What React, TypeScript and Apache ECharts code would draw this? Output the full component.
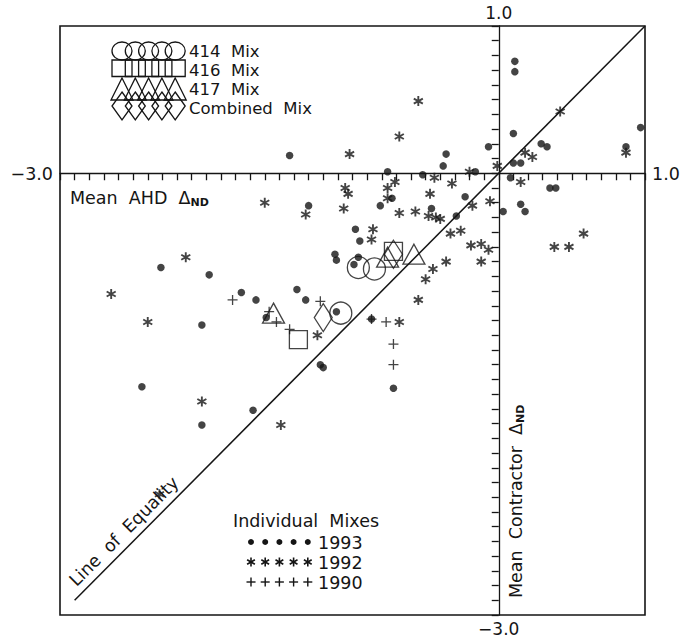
import React, { useEffect, useRef } from 'react';
import * as echarts from 'echarts';

// ---- data (x = Mean AHD ΔND, y = Mean Contractor ΔND) ----
const dots1993: number[][] = [
  [0.11, 0.76], [0.11, 0.69], [0.10, 0.27], [0.97, 0.31], [0.87, 0.18], [0.29, 0.20], [0.33, 0.18],
  [0.10, 0.07], [0.15, 0.07], [-0.07, 0.18], [-0.36, 0.13], [-0.38, 0.05], [-1.43, 0.12], [-0.76, 0.01],
  [-0.52, -0.01], [-0.16, 0.01], [0.08, -0.03], [0.35, -0.10], [0.39, -0.10], [-0.73, -0.17], [-0.23, -0.16],
  [0.03, -0.26], [0.15, -0.21], [0.18, -0.26], [-1.30, -0.22], [-0.81, -0.22], [-0.29, -0.29],
  [-2.31, -0.64], [-1.98, -0.69], [-2.03, -1.03], [-1.76, -0.81], [-1.66, -0.86], [-1.38, -0.79], [-1.59, -0.98],
  [-2.44, -1.45], [-2.03, -1.71], [-1.68, -1.61], [-1.32, -0.86], [-1.22, -1.30], [-1.20, -1.32], [-1.11, -0.94],
  [-1.12, -0.55], [-1.11, -0.59], [-0.99, -0.62], [-0.96, -0.57], [-0.98, -0.38], [-0.95, -0.46], [-0.87, -0.99],
  [-0.72, -1.46], [-0.46, -0.24]
];
const stars1992: number[][] = [
  [-0.55, 0.49], [-0.68, 0.25], [-1.02, 0.13], [0.42, 0.42], [0.87, 0.14], [0.18, 0.14], [0.23, 0.11],
  [-0.01, 0.05], [-0.44, -0.03], [-0.20, 0.01], [0.15, -0.06], [-0.32, -0.07], [-1.05, -0.10], [-1.03, -0.14],
  [-0.76, -0.10], [-0.71, -0.06], [-0.76, -0.17], [-0.47, -0.14], [-0.06, -0.19], [-0.18, -0.22], [-1.60, -0.20],
  [-1.32, -0.28], [-1.06, -0.24], [-0.68, -0.27], [-0.57, -0.26], [-0.48, -0.29], [-0.43, -0.30],
  [-2.65, -0.82], [-2.40, -1.01], [-2.14, -0.57], [-2.03, -1.55], [-1.49, -1.71], [-2.32, -2.18], [-1.24, -1.10],
  [-0.68, -1.01], [-0.87, -0.45], [-0.86, -0.38], [-0.40, -0.31], [-0.33, -0.41], [-0.26, -0.39], [-0.19, -0.49],
  [-0.12, -0.48], [-0.07, -0.52], [-0.12, -0.60], [-0.36, -0.60], [-0.45, -0.65], [-0.50, -0.72], [-0.55, -0.86],
  [0.38, -0.50], [0.48, -0.50], [0.58, -0.41]
];
const plus1990: number[][] = [
  [-1.82, -0.86], [-1.57, -0.94], [-1.52, -1.01], [-1.43, -1.06], [-1.22, -0.87], [-0.87, -0.99],
  [-0.77, -1.01], [-0.72, -1.16], [-0.72, -1.30]
];
const mix414: number[][] = [[-1.08, -0.95], [-0.96, -0.64], [-0.85, -0.65]];
const mix416: number[][] = [[-1.37, -1.13], [-0.72, -0.53]];
const mix417: number[][] = [[-1.54, -0.95], [-0.76, -0.57], [-0.58, -0.55]];
const mixCombined: number[][] = [[-1.20, -0.98], [-0.72, -0.55]];
const equalityLine: number[][] = [[-2.9, -2.9], [1, 1]];

const axisMin = -3;
const axisMax = 1;
const xTickLabels = [{ v: -3, t: '\u22123.0' }, { v: 1, t: '1.0' }];
const yTickLabels = [{ v: 1, t: '1.0' }, { v: -3, t: '\u22123.0' }];
const mixLegend = ['414  Mix', '416  Mix', '417  Mix', 'Combined  Mix'];
const yearLegend = ['1993', '1992', '1990'];

const STAR = 'path://M-1.8,-10L1.8,-10L1.8,10L-1.8,10ZM7.76,-6.56L9.56,-3.44L-7.76,6.56L-9.56,3.44ZM9.56,3.44L7.76,6.56L-9.56,-3.44L-7.76,-6.56Z';
const PLUS = 'path://M-1.3,-10L1.3,-10L1.3,10L-1.3,10ZM-10,-1.3L10,-1.3L10,1.3L-10,1.3Z';

const FONT = 'DejaVu Sans';
const INK = '#151515';

export default function App() {
  const ref = useRef<HTMLDivElement>(null);
  useEffect(() => {
    document.body.style.margin = '0';
    const chart = echarts.init(ref.current!, null, { renderer: 'svg' });
    const hollow = { color: 'rgba(0,0,0,0)', borderColor: INK, borderWidth: 1.3 };
    chart.setOption({
      animation: false,
      backgroundColor: '#fff',
      grid: { left: 60, right: 38, top: 26, bottom: 24, show: true, borderColor: INK, borderWidth: 1.6, backgroundColor: 'transparent' },
      xAxis: {
        type: 'value', min: axisMin, max: axisMax, interval: 0.1,
        axisLine: { onZero: true, lineStyle: { color: INK, width: 1.3 } },
        axisTick: { show: true, length: 7, lineStyle: { color: INK, width: 1.3 } },
        axisLabel: { show: false }, splitLine: { show: false }
      },
      yAxis: {
        type: 'value', min: axisMin, max: axisMax, interval: 0.1,
        axisLine: { onZero: true, lineStyle: { color: INK, width: 1.3 } },
        axisTick: { show: true, length: 7, lineStyle: { color: INK, width: 1.3 } },
        axisLabel: { show: false }, splitLine: { show: false }
      },
      series: [
        { type: 'line', data: equalityLine, symbol: 'none', lineStyle: { color: INK, width: 1.5 }, silent: true, z: 1 },
        { type: 'scatter', data: dots1993, symbol: 'circle', symbolSize: 7.5, itemStyle: { color: INK }, z: 3 },
        { type: 'scatter', data: stars1992, symbol: STAR, symbolSize: 10, itemStyle: { color: INK }, z: 3 },
        { type: 'scatter', data: plus1990, symbol: PLUS, symbolSize: 10, itemStyle: { color: INK }, z: 3 },
        { type: 'scatter', data: mix414, symbol: 'circle', symbolSize: 22, itemStyle: hollow, z: 4 },
        { type: 'scatter', data: mix416, symbol: 'rect', symbolSize: 18, itemStyle: hollow, z: 4 },
        { type: 'scatter', data: mix417, symbol: 'triangle', symbolSize: [22, 20], itemStyle: hollow, z: 4 },
        { type: 'scatter', data: mixCombined, symbol: 'diamond', symbolSize: [18, 28], itemStyle: hollow, z: 4 }
      ]
    });

    const px = (x: number, y: number) => chart.convertToPixel({ gridIndex: 0 }, [x, y]) as number[];
    const txt = (x: number, y: number, text: string, align: string, va: string, extra: any = {}, size = 17.5) => ({
      type: 'text', x, y, ...extra,
      style: { text, align, verticalAlign: va, font: `${size}px "${FONT}"`, lineHeight: size, fill: INK }
    });
    const g: any[] = [];
    xTickLabels.forEach((l, i) => {
      const p = px(l.v, 0);
      g.push(txt(i === 0 ? p[0] - 7 : p[0] + 7, p[1] + 1, l.t, i === 0 ? 'right' : 'left', 'middle'));
    });
    yTickLabels.forEach((l, i) => {
      const p = px(0, l.v);
      g.push(txt(p[0], i === 0 ? p[1] - 5 : p[1] + 5, l.t, 'center', i === 0 ? 'bottom' : 'top', {}, 17));
    });
    const rich = {
      a: { font: `17.5px "${FONT}"`, fill: INK, lineHeight: 20, verticalAlign: 'middle' },
      s: { font: `bold 11px "${FONT}"`, fill: INK, lineHeight: 20, verticalAlign: 'bottom' }
    };
    const pa = px(-3, 0);
    g.push({ type: 'text', x: pa[0] + 10, y: pa[1] + 25, style: { text: '{a|Mean  AHD  \u0394}{s|ND}', rich, align: 'left', verticalAlign: 'middle' } });
    const pb = px(0, -3);
    g.push({ type: 'text', x: pb[0] + 17, y: pb[1] - 17, rotation: Math.PI / 2, style: { text: '{a|Mean  Contractor  \u0394}{s|ND}', rich, align: 'left', verticalAlign: 'middle' } });
    const pe = px(-2.563, -2.432);
    g.push(txt(pe[0], pe[1], 'Line  of  Equality', 'center', 'middle', { rotation: Math.PI / 4 }));

    const lx0 = 122, ls = 13.3;
    const lineS = { stroke: INK, lineWidth: 1.3, fill: 'none' };
    for (let i = 0; i < 5; i++) {
      const cx = lx0 + i * ls;
      g.push({ type: 'ellipse', shape: { cx, cy: 51, rx: 10, ry: 9 }, style: lineS });
      g.push({ type: 'rect', shape: { x: cx - 10, y: 60, width: 20, height: 16.5 }, style: lineS });
      g.push({ type: 'polygon', shape: { points: [[cx, 78], [cx + 11, 100], [cx - 11, 100]] }, style: lineS });
      g.push({ type: 'polygon', shape: { points: [[cx, 92], [cx + 10, 106], [cx, 120], [cx - 10, 106]] }, style: lineS });
    }
    const ly = [51.5, 70.5, 89.5, 108.5];
    mixLegend.forEach((t, i) => g.push(txt(189, ly[i], t, 'left', 'middle', {}, 16.5)));

    g.push(txt(233, 521, 'Individual  Mixes', 'left', 'middle'));
    const yy = [542, 562, 582];
    yearLegend.forEach((t, i) => g.push(txt(318, yy[i] + 1, t, 'left', 'middle')));
    for (let i = 0; i < 5; i++) {
      const cx = 251 + i * 14.2;
      g.push({ type: 'circle', shape: { cx, cy: yy[0], r: 3 }, style: { fill: INK } });
      g.push({ type: 'group', x: cx, y: yy[1], children: [0, 60, 120].map((a) => ({
        type: 'line', rotation: (a * Math.PI) / 180,
        shape: { x1: 0, y1: -4.5, x2: 0, y2: 4.5 }, style: { stroke: INK, lineWidth: 1.6 }
      })) });
      g.push({ type: 'line', shape: { x1: cx - 4.5, y1: yy[2], x2: cx + 4.5, y2: yy[2] }, style: { stroke: INK, lineWidth: 1.4 } });
      g.push({ type: 'line', shape: { x1: cx, y1: yy[2] - 4.5, x2: cx, y2: yy[2] + 4.5 }, style: { stroke: INK, lineWidth: 1.4 } });
    }
    chart.setOption({ graphic: g });
    return () => chart.dispose();
  }, []);
  return <div ref={ref} style={{ width: 683, height: 639 }} />;
}
